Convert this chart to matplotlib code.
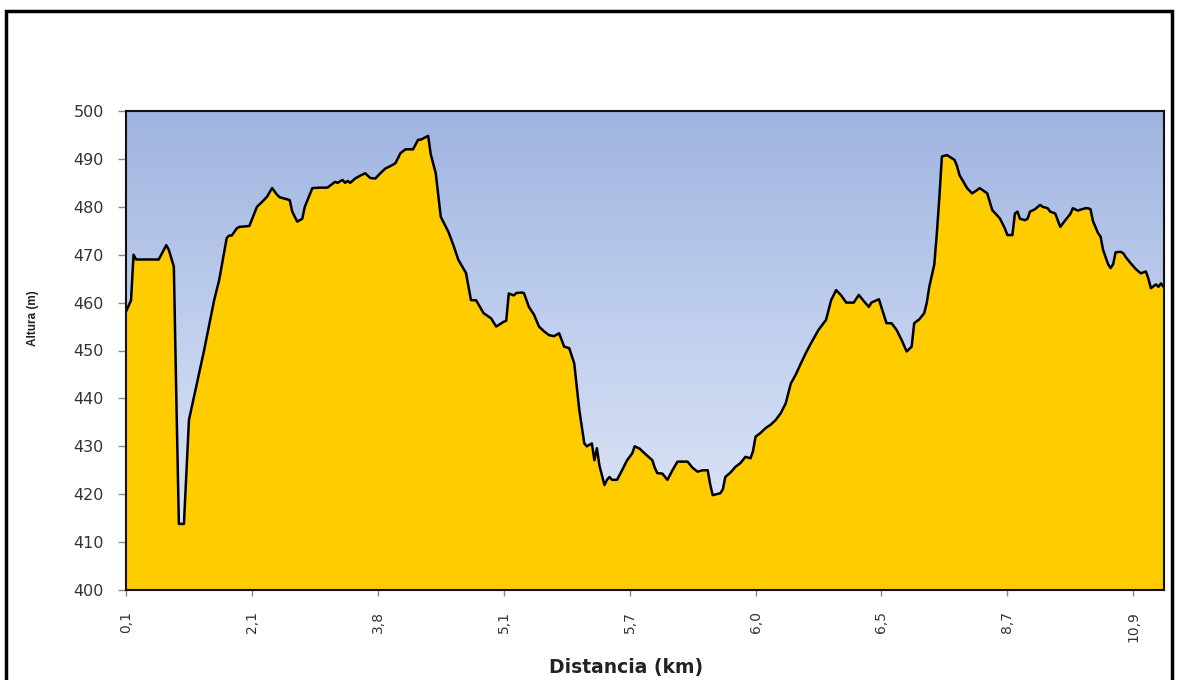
import numpy as np
import matplotlib
matplotlib.use("Agg")
from matplotlib import pyplot as plt
from matplotlib.colors import LinearSegmentedColormap
from matplotlib.patches import Rectangle

plt.rcParams['font.family'] = ['DejaVu Sans']

# numero de punto del perfil (eje de categorias, 50 puntos entre etiquetas)
punto = [0, 2, 3, 4, 13, 15, 16, 17, 19, 20, 21, 23, 25, 31, 35, 37, 40, 41, 42, 44,
         45, 49, 52, 54, 56, 58, 60, 61, 65, 66, 68, 70, 71, 74, 77, 80, 83, 84, 86, 87,
         88, 89, 91, 93, 95, 97, 99, 101, 103, 105, 107, 109, 111, 114, 116, 117, 120, 121, 123, 125,
         128, 130, 132, 135, 137, 139, 142, 145, 147, 150, 151, 152, 154, 155, 157, 158, 160, 162, 164, 166,
         168, 170, 172, 174, 176, 178, 180, 182, 183, 185, 186, 187, 188, 190, 191, 192, 193, 195, 197, 199,
         201, 202, 204, 206, 209, 210, 211, 213, 215, 217, 219, 223, 225, 227, 229, 231, 232, 233, 236, 237,
         238, 240, 242, 244, 246, 248, 249, 250, 252, 254, 256, 258, 260, 262, 264, 266, 268, 270, 272, 275,
         276, 278, 280, 282, 284, 286, 289, 291, 293, 295, 296, 299, 300, 302, 304, 306, 308, 310, 312, 313,
         315, 317, 318, 319, 321, 322, 323, 324, 326, 329, 330, 331, 334, 336, 338, 339, 342, 344, 347, 349,
         350, 352, 353, 354, 355, 357, 358, 359, 361, 363, 364, 366, 367, 369, 371, 372, 373, 375, 376, 378,
         379, 381, 382, 383, 384, 386, 387, 388, 390, 391, 392, 393, 395, 396, 397, 399, 401, 403, 405, 406,
         407, 409, 410, 411, 412]

# altura en metros de cada punto
altura = [458.1, 460.5, 470.0, 469.0, 469.0, 471.0, 472.0, 471.0, 467.5, 439.7, 413.8, 413.8, 435.5, 450.0, 460.5, 464.7, 473.5, 474.0, 474.0, 475.5,
          475.8, 476.0, 480.0, 481.0, 482.1, 483.9, 482.5, 482.0, 481.4, 479.0, 476.9, 477.5, 480.0, 483.9, 484.0, 484.0, 485.2, 485.0, 485.6, 485.0,
          485.4, 485.0, 485.9, 486.5, 487.0, 486.0, 485.9, 487.0, 488.0, 488.5, 489.1, 491.2, 492.0, 492.0, 494.0, 494.0, 494.8, 491.0, 487.0, 477.9,
          474.8, 472.0, 468.9, 466.2, 460.5, 460.5, 457.8, 456.7, 455.0, 456.0, 456.2, 461.9, 461.5, 462.0, 462.1, 462.0, 459.1, 457.5, 455.0, 454.0,
          453.2, 453.0, 453.6, 450.8, 450.5, 447.3, 437.6, 430.6, 430.0, 430.6, 427.1, 429.6, 426.0, 421.9, 423.0, 423.6, 423.0, 423.0, 425.0, 427.1,
          428.5, 430.0, 429.5, 428.5, 427.1, 425.5, 424.4, 424.3, 423.0, 425.0, 426.8, 426.8, 425.5, 424.7, 425.0, 425.0, 422.0, 419.8, 420.2, 421.0,
          423.6, 424.5, 425.7, 426.5, 427.8, 427.5, 429.0, 432.0, 432.8, 433.8, 434.5, 435.5, 436.9, 439.0, 443.1, 445.0, 447.3, 449.5, 451.5, 454.3,
          455.0, 456.4, 460.5, 462.6, 461.5, 460.0, 460.0, 461.6, 460.3, 459.1, 460.0, 460.7, 459.0, 455.7, 455.7, 454.3, 452.2, 449.8, 450.8, 455.7,
          456.5, 457.8, 460.0, 463.3, 468.0, 474.5, 482.0, 490.5, 490.8, 489.8, 488.5, 486.6, 483.9, 482.8, 483.5, 483.9, 482.8, 479.3, 477.6, 475.5,
          474.1, 474.1, 478.6, 479.0, 477.5, 477.2, 477.5, 479.0, 479.5, 480.4, 480.0, 479.7, 479.0, 478.6, 475.8, 476.5, 477.2, 478.5, 479.7, 479.2,
          479.4, 479.7, 479.7, 479.5, 477.0, 474.5, 473.8, 471.0, 468.0, 467.2, 468.0, 470.5, 470.6, 470.3, 469.5, 468.2, 467.0, 466.1, 466.5, 465.0,
          463.0, 463.8, 463.3, 464.0, 463.3]

# etiquetas de distancia (km) cada 50 puntos
etiquetas_km = ['0,1', '2,1', '3,8', '5,1', '5,7', '6,0', '6,5', '8,7', '10,9']
pos_etiquetas = [0, 50, 100, 150, 200, 250, 300, 350, 400]

fig = plt.figure(figsize=(11.79, 6.80), dpi=100)
fig.patch.set_facecolor('white')

# marco negro alrededor de todo el grafico
fig.add_artist(Rectangle((6 / 1179, -0.02), 1166 / 1179, 1.02 - 11 / 680,
                         transform=fig.transFigure, fill=False,
                         edgecolor='black', linewidth=2.5))

ax = fig.add_axes([126 / 1179, 1 - 590 / 680, (1164 - 126) / 1179, (590 - 111) / 680])

xmax = 412.2
ax.set_xlim(0, xmax)
ax.set_ylim(400, 500)

# fondo degradado azul
cielo = LinearSegmentedColormap.from_list('cielo', ['#9fb4e0', '#c4d2ef', '#e4eaf8'])
grad = np.linspace(0, 1, 256).reshape(-1, 1)
ax.imshow(grad, cmap=cielo, extent=[0, xmax, 400, 500], aspect='auto',
          origin='upper', zorder=0)

# perfil de altura
ax.fill_between(punto, altura, 400, color='#ffcc00', linewidth=0, zorder=2)
ax.plot(punto, altura, color='black', linewidth=1.8, zorder=3,
        solid_joinstyle='round')

ax.set_yticks(range(400, 501, 10))
ax.set_xticks(pos_etiquetas)
ax.set_xticklabels(etiquetas_km, rotation=90)

for lado in ['left', 'bottom', 'right', 'top']:
    ax.spines[lado].set_linewidth(1.5)
    ax.spines[lado].set_color('#111111')
    ax.spines[lado].set_zorder(4)

ax.tick_params(axis='y', length=6, width=1, color='#888888', pad=10,
               labelsize=11.5, labelcolor='#333333')
ax.tick_params(axis='x', length=4, width=1, color='#888888', pad=11,
               labelsize=10, labelcolor='#333333')

fig.text(626 / 1179, 1 - 668 / 680, 'Distancia (km)', ha='center', va='center',
         fontsize=13.5, fontweight='bold', color='#222222')
fig.text(33 / 1179, 1 - 318 / 680, 'Altura (m)', ha='center', va='center',
         rotation=90, fontsize=8.5, fontweight='bold', color='#222222',
         family=['Liberation Sans', 'DejaVu Sans'])

fig.savefig('out.png', dpi=100)
